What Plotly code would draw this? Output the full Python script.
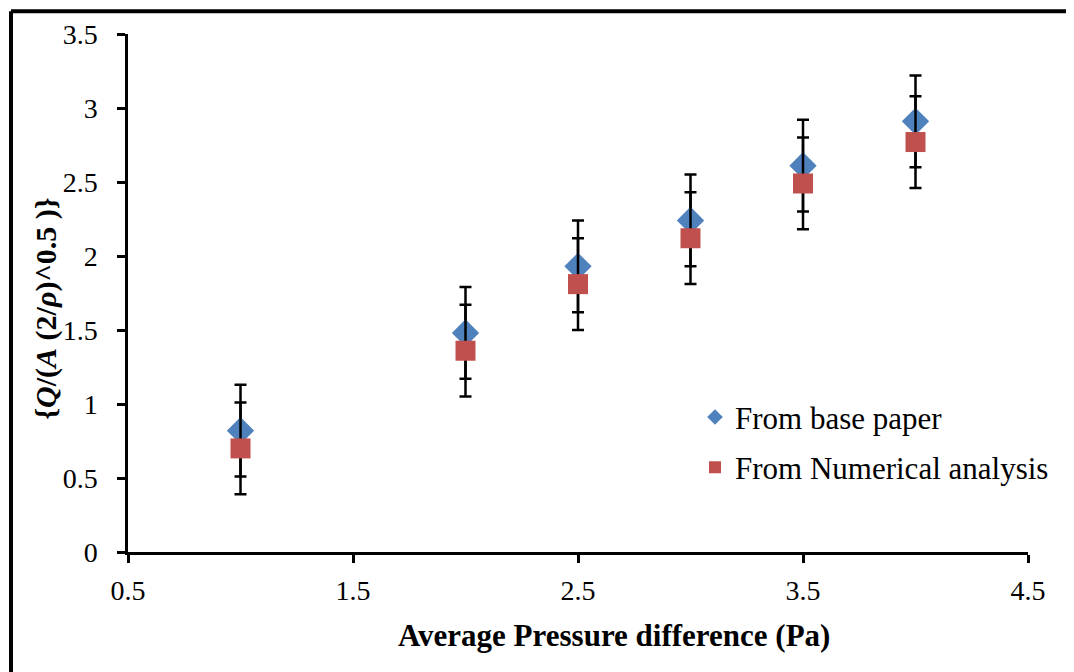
import plotly.graph_objects as go

# x positions (Pa)
pressure = [1, 2, 2.5, 3, 3.5, 4]
# series values
base_paper = [0.82, 1.48, 1.93, 2.24, 2.61, 2.91]
numerical = [0.70, 1.36, 1.81, 2.12, 2.49, 2.77]
err = [0.31, 0.31, 0.31, 0.31, 0.31, 0.31]

x_ticks = [0.5, 1.5, 2.5, 3.5, 4.5]
y_ticks = [0, 0.5, 1, 1.5, 2, 2.5, 3, 3.5]

font_fam = "Liberation Serif, Times New Roman, serif"

fig = go.Figure()

fig.add_trace(go.Scatter(
    x=pressure, y=base_paper, mode="markers", name="From base paper",
    legendgroup="a",
    marker=dict(symbol="diamond", size=21, color="#4f81bd"),
    error_y=dict(type="data", array=err, color="black", thickness=2.5, width=6),
))
fig.add_trace(go.Scatter(
    x=pressure, y=numerical, mode="markers", name="From Numerical analysis",
    legendgroup="b",
    marker=dict(symbol="square", size=20, color="#c0504d"),
    error_y=dict(type="data", array=err, color="black", thickness=2.5, width=6),
))

axis_common = dict(showgrid=False, zeroline=False, showline=True,
                   linecolor="black", linewidth=2.5, ticks="outside",
                   ticklen=8, tickwidth=2.5, tickcolor="black",
                   tickfont=dict(family=font_fam, size=28, color="black"))

fig.update_xaxes(range=[0.5, 4.5], tickvals=x_ticks,
                 ticktext=[str(t) for t in x_ticks], ticklabelstandoff=4,
                 **axis_common)
fig.update_yaxes(range=[0, 3.5], tickvals=y_ticks,
                 ticktext=[str(t) for t in y_ticks], ticklabelstandoff=14,
                 **axis_common)

# axis titles
fig.add_annotation(
    text="<b>Average Pressure difference (Pa)</b>",
    xref="paper", yref="paper", x=0.54, y=-0.162, showarrow=False,
    xanchor="center", yanchor="middle",
    font=dict(family=font_fam, size=31, color="black"),
)
fig.add_annotation(
    text="<b>{<i>Q</i>/(<i>A</i> (2/<i>ρ</i>)^0.5 )}</b>",
    xref="paper", yref="paper", x=-0.092, y=0.47, showarrow=False,
    xanchor="center", yanchor="middle",
    textangle=-90, font=dict(family=font_fam, size=30, color="black"),
)

# outer frame (only top and left edges visible in the picture)
fig.add_shape(type="line", xref="paper", yref="paper",
              x0=-0.13, x1=1.07, y0=1.044, y1=1.044,
              line=dict(color="black", width=4))
fig.add_shape(type="line", xref="paper", yref="paper",
              x0=-0.13, x1=-0.13, y0=-0.27, y1=1.044,
              line=dict(color="black", width=4))

fig.update_layout(
    width=1074, height=672,
    margin=dict(l=120, r=54, t=26, b=128),
    plot_bgcolor="white", paper_bgcolor="white",
    showlegend=True,
    legend=dict(x=0.63, y=0.312, xanchor="left", yanchor="top",
                bgcolor="rgba(0,0,0,0)", itemsizing="constant",
                tracegroupgap=7, itemwidth=30,
                font=dict(family=font_fam, size=31, color="black")),
)

fig.write_html("out.html")
